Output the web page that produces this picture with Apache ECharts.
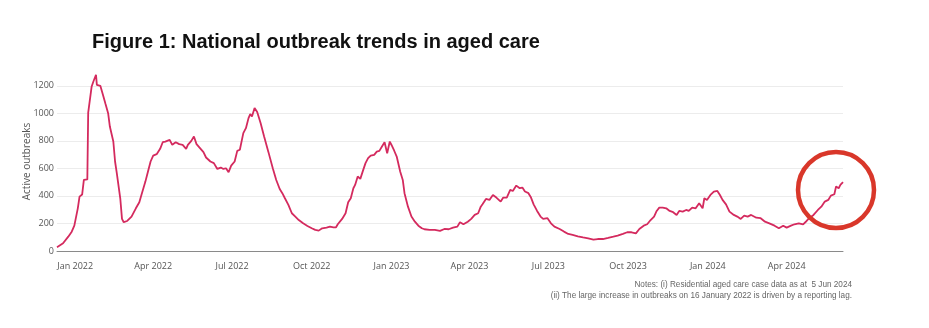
<!DOCTYPE html>
<html>
<head>
<meta charset="utf-8">
<script src="https://cdn.jsdelivr.net/npm/echarts@6/dist/echarts.min.js"></script>
<style>
html,body{margin:0;padding:0;background:#fff;}
#chart{width:929px;height:328px;}
</style>
</head>
<body>
<div id="chart"></div>
<script>
const titleText = 'Figure 1: National outbreak trends in aged care';
const yAxisName = 'Active outbreaks';
const notes = ['Notes: (i) Residential aged care case data as at  5 Jun 2024',
  '(ii) The large increase in outbreaks on 16 January 2022 is driven by a reporting lag.'];

const tickDates = ['2022-01-01','2022-04-01','2022-07-01','2022-10-01','2023-01-01','2023-04-01','2023-07-01','2023-10-01','2024-01-01','2024-04-01'];
const tickLabels = ['Jan 2022','Apr 2022','Jul 2022','Oct 2022','Jan 2023','Apr 2023','Jul 2023','Oct 2023','Jan 2024','Apr 2024'];

const dates = [
'2021-12-11','2021-12-18','2021-12-24','2021-12-28','2021-12-31',
'2022-01-02','2022-01-04','2022-01-06','2022-01-09','2022-01-11','2022-01-15','2022-01-16','2022-01-18','2022-01-20','2022-01-22','2022-01-24','2022-01-25','2022-01-26','2022-01-30',
'2022-02-02','2022-02-05','2022-02-08','2022-02-10','2022-02-12','2022-02-14','2022-02-16','2022-02-18','2022-02-20','2022-02-22','2022-02-24','2022-02-26',
'2022-03-02','2022-03-07','2022-03-12','2022-03-16','2022-03-19','2022-03-23','2022-03-26','2022-03-29',
'2022-04-01','2022-04-05','2022-04-09','2022-04-12','2022-04-15','2022-04-17','2022-04-20','2022-04-23','2022-04-27',
'2022-05-01','2022-05-05','2022-05-09','2022-05-11','2022-05-15','2022-05-18','2022-05-21','2022-05-25','2022-05-29',
'2022-06-01','2022-06-06','2022-06-10','2022-06-14','2022-06-18','2022-06-21','2022-06-24','2022-06-27','2022-06-30',
'2022-07-04','2022-07-07','2022-07-10','2022-07-14','2022-07-17','2022-07-20','2022-07-22','2022-07-24','2022-07-27','2022-07-30',
'2022-08-03','2022-08-07','2022-08-12','2022-08-17','2022-08-21','2022-08-25','2022-08-28','2022-08-31',
'2022-09-04','2022-09-08','2022-09-12','2022-09-16','2022-09-21','2022-09-26',
'2022-10-01','2022-10-05','2022-10-09','2022-10-13','2022-10-18','2022-10-22','2022-10-26','2022-10-29','2022-10-31',
'2022-11-05','2022-11-09','2022-11-12','2022-11-15','2022-11-18','2022-11-20','2022-11-23','2022-11-26','2022-11-29',
'2022-12-02','2022-12-05','2022-12-08','2022-12-12','2022-12-15','2022-12-18','2022-12-21','2022-12-24','2022-12-27','2022-12-30',
'2023-01-01','2023-01-04','2023-01-07','2023-01-11','2023-01-14','2023-01-16','2023-01-20','2023-01-24','2023-01-28',
'2023-02-01','2023-02-05','2023-02-08','2023-02-14','2023-02-20','2023-02-22','2023-02-26',
'2023-03-03','2023-03-08','2023-03-13','2023-03-18','2023-03-21','2023-03-25','2023-03-30',
'2023-04-03','2023-04-07','2023-04-11','2023-04-14','2023-04-16','2023-04-20','2023-04-24','2023-04-28',
'2023-05-02','2023-05-07','2023-05-10','2023-05-14','2023-05-18','2023-05-21','2023-05-25','2023-05-29',
'2023-06-01','2023-06-04','2023-06-08','2023-06-11','2023-06-14','2023-06-18','2023-06-22','2023-06-25','2023-06-30',
'2023-07-04','2023-07-08','2023-07-14','2023-07-19','2023-07-24','2023-07-29',
'2023-08-04','2023-08-10','2023-08-16','2023-08-22','2023-08-27',
'2023-09-02','2023-09-08','2023-09-14','2023-09-19','2023-09-25','2023-09-30',
'2023-10-05','2023-10-10','2023-10-14','2023-10-19','2023-10-23','2023-10-27','2023-10-31',
'2023-11-03','2023-11-06','2023-11-10','2023-11-14','2023-11-18','2023-11-22','2023-11-26','2023-11-29',
'2023-12-03','2023-12-07','2023-12-10','2023-12-14','2023-12-18','2023-12-22','2023-12-26','2023-12-28','2023-12-31',
'2024-01-04','2024-01-08','2024-01-12','2024-01-15','2024-01-18','2024-01-22','2024-01-26','2024-01-31',
'2024-02-04','2024-02-08','2024-02-12','2024-02-16','2024-02-20','2024-02-26',
'2024-03-02','2024-03-07','2024-03-12','2024-03-18','2024-03-23','2024-03-28',
'2024-04-01','2024-04-06','2024-04-10','2024-04-15','2024-04-20','2024-04-24','2024-04-27',
'2024-05-02','2024-05-07','2024-05-11','2024-05-15','2024-05-19','2024-05-22','2024-05-26','2024-05-28','2024-05-31',
'2024-06-02','2024-06-05'
];

const outbreaks = [
28,56,104,140,184,
186,310,395,410,516,520,1005,1010,1195,1231,1245,1280,1207,1200,
1135,1067,1001,904,891,795,650,565,553,383,233,209,
218,250,310,354,420,504,577,650,
693,703,742,790,795,783,807,771,790,
776,771,742,771,800,831,776,747,718,
679,650,638,596,606,596,601,572,620,
650,727,735,856,892,965,994,977,1038,1009,
928,831,718,601,516,450,420,383,
335,274,250,225,201,182,
165,153,148,165,170,177,172,172,194,
233,274,354,383,456,480,541,524,582,
638,674,693,698,722,727,759,790,710,795,
770,730,686,577,516,420,322,250,213,
184,165,158,153,153,165,146,
160,158,170,177,209,194,213,
233,262,274,322,339,378,371,407,
388,359,388,388,444,436,475,456,
461,432,420,388,339,291,250,233,238,
201,177,160,141,124,117,
107,99,92,82,87,
87,95,104,112,125,136,
136,128,160,184,194,225,250,
291,315,315,310,291,282,262,291,
286,298,291,315,310,347,310,383,371,
407,432,436,407,371,339,286,262,
250,233,257,250,262,242,
238,213,201,184,165,184,
170,184,194,201,194,218,238,
262,298,322,359,371,402,412,468,456,
480,500
];

const toMs = d => Date.UTC(+d.slice(0, 4), +d.slice(5, 7) - 1, +d.slice(8, 10));
const seriesData = dates.map((d, i) => [toMs(d), outbreaks[i]]);
const tickValues = tickDates.map(toMs);
const labelFont = '"Open Sans", "DejaVu Sans", sans-serif';

const chart = echarts.init(document.getElementById('chart'), null, {renderer: 'canvas'});
chart.setOption({
  animation: false,
  backgroundColor: '#ffffff',
  title: {
    text: titleText,
    left: 87, top: 27,
    textStyle: {fontFamily: '"Liberation Sans", Arial, sans-serif', fontWeight: 'bold', fontSize: 20, color: '#111'}
  },
  grid: {left: 57, right: 86, top: 72, bottom: 77, containLabel: false},
  xAxis: {
    type: 'value',
    min: toMs(dates[0]),
    max: toMs(dates[dates.length - 1]),
    axisLine: {show: true, lineStyle: {color: '#8a8a8a', width: 1}},
    axisTick: {show: false},
    splitLine: {show: false},
    axisLabel: {
      customValues: tickValues,
      color: '#555',
      fontSize: 9,
      fontFamily: labelFont,
      margin: 11,
      showMinLabel: true,
      showMaxLabel: true,
      formatter: function (v) {
        const i = tickValues.indexOf(v);
        return i >= 0 ? tickLabels[i] : '';
      }
    }
  },
  yAxis: {
    type: 'value',
    min: 0, max: 1300, interval: 200,
    name: yAxisName,
    nameLocation: 'middle',
    nameGap: 25,
    nameMoveOverlap: false,
    nameTextStyle: {color: '#555', fontSize: 10, fontFamily: labelFont},
    axisLine: {show: false},
    axisTick: {show: false},
    axisLabel: {color: '#555', fontSize: 9, fontFamily: labelFont, margin: 3, showMaxLabel: false,
      formatter: function (v) { return String(v); }},
    splitLine: {show: true, showMaxLine: false, lineStyle: {color: '#ececec', width: 1}}
  },
  series: [{
    type: 'line',
    data: seriesData,
    showSymbol: false,
    symbol: 'none',
    lineStyle: {color: '#d42a5e', width: 1.8},
    itemStyle: {color: '#d42a5e'}
  }],
  graphic: [
    {
      type: 'text',
      right: 929 - 852, top: 281,
      style: {text: notes[0], fill: '#666', font: '8.2px "Liberation Sans", Arial, sans-serif', textAlign: 'right'}
    },
    {
      type: 'text',
      right: 929 - 852, top: 292,
      style: {text: notes[1], fill: '#666', font: '8.2px "Liberation Sans", Arial, sans-serif', textAlign: 'right'}
    },
    {
      type: 'circle',
      shape: {cx: 836, cy: 190, r: 38},
      style: {fill: 'none', stroke: '#d9372a', lineWidth: 4.5},
      z: 100
    }
  ]
});
</script>
</body>
</html>
